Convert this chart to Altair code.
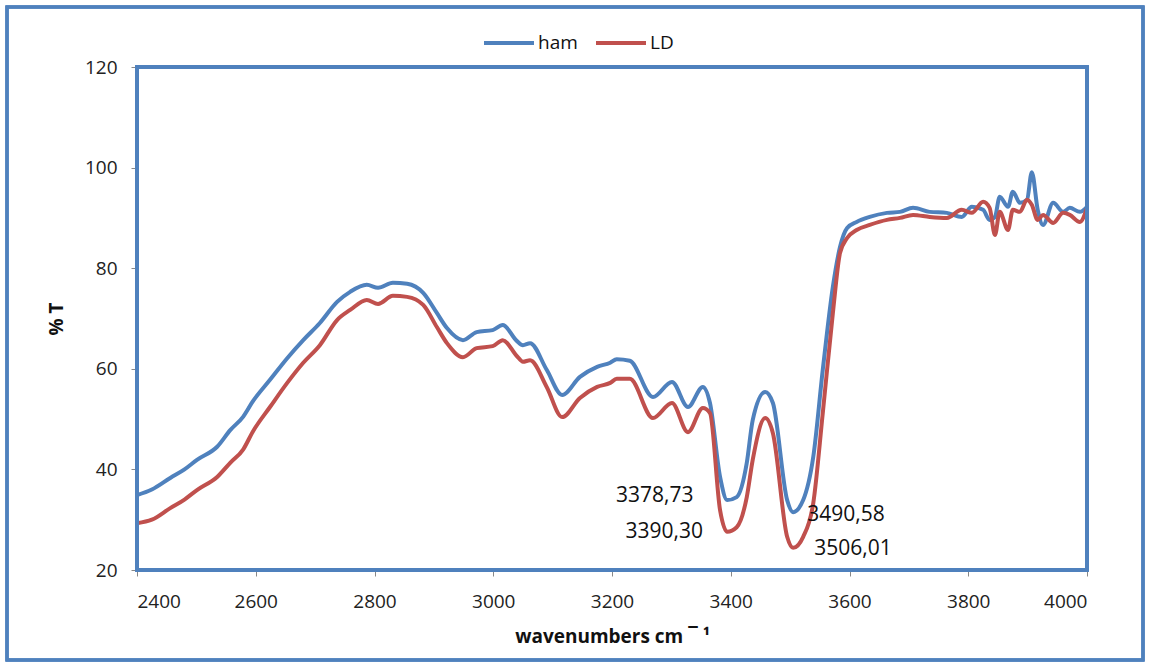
import altair as alt
import pandas as pd

wavenumber = [2400, 2425, 2456, 2480, 2501, 2535, 2557, 2579, 2595, 2624, 2653, 2680, 2708,
              2737, 2759, 2787, 2806, 2831, 2855, 2882, 2905, 2922, 2949, 2972, 2999, 3016,
              3040, 3050, 3062, 3090, 3116, 3146, 3175, 3197, 3208, 3230, 3269, 3301, 3328,
              3353, 3365, 3382, 3394, 3410, 3427, 3437, 3458, 3471, 3495, 3505, 3522, 3539,
              3555, 3572, 3584, 3596, 3612, 3634, 3663, 3685, 3707, 3735, 3764, 3789, 3806,
              3825, 3836, 3845, 3853, 3867, 3875, 3887, 3899, 3907, 3917, 3926, 3943, 3960,
              3971, 3988, 4000]
ham = [34.9, 36.0, 38.3, 40.0, 41.9, 44.5, 47.8, 50.5, 53.5, 57.8, 62.1, 65.7, 69.1,
       73.3, 75.3, 76.7, 76.1, 77.1, 76.9, 75.1, 71.1, 68.1, 65.7, 67.3, 67.7, 68.7,
       65.5, 64.7, 65.1, 59.8, 54.8, 58.4, 60.4, 61.2, 61.9, 61.6, 54.4, 57.4, 52.4,
       56.4, 53.2, 38.5, 33.9, 34.5, 41.3, 49.8, 55.4, 53.2, 33.9, 31.5, 33.9, 42.5,
       59.8, 76.3, 84.2, 88.0, 89.2, 90.2, 91.0, 91.2, 92.0, 91.2, 91.0, 90.2, 92.2,
       91.6, 89.6, 90.2, 94.2, 92.2, 95.2, 93.0, 93.6, 99.1, 91.6, 88.6, 93.0, 91.2,
       92.0, 91.2, 92.2]
ld = [29.3, 30.0, 32.3, 34.0, 35.9, 38.5, 41.3, 44.0, 47.5, 52.4, 57.2, 61.2, 64.7,
      69.7, 71.7, 73.7, 72.9, 74.5, 74.3, 72.7, 68.3, 65.1, 62.3, 64.1, 64.5, 65.7,
      62.5, 61.4, 61.7, 56.4, 50.4, 54.2, 56.4, 57.2, 58.0, 58.0, 50.2, 53.2, 47.4,
      52.2, 51.2, 31.9, 27.6, 28.5, 34.5, 41.9, 50.2, 47.2, 26.6, 24.4, 26.6, 33.3,
      51.2, 71.1, 83.0, 86.0, 87.6, 88.6, 89.6, 90.0, 90.6, 90.2, 90.0, 91.6, 91.0,
      93.2, 92.0, 86.6, 91.2, 87.6, 91.6, 91.2, 93.6, 92.6, 89.6, 90.6, 89.0, 91.0,
      90.6, 89.2, 92.0]

labels = ["3378,73", "3390,30", "3490,58", "3506,01"]
label_x = [3272, 3288, 3594, 3606]
label_y = [34.7, 27.6, 30.9, 24.2]

df = pd.concat([
    pd.DataFrame({"w": wavenumber, "T": ham, "series": "ham"}),
    pd.DataFrame({"w": wavenumber, "T": ld, "series": "LD"}),
])
lab = pd.DataFrame({"text": labels, "w": label_x, "T": label_y})

BLUE = "#4F81BD"
RED = "#C0504D"
FONT = "Open Sans"

xs = alt.Scale(domain=[2400, 4000], nice=False)
ys = alt.Scale(domain=[20, 120], nice=False)

lines = alt.Chart(df).mark_line(strokeWidth=4, interpolate="monotone").encode(
    x=alt.X("w:Q", scale=xs, title="wavenumbers cm ¯ ¹",
            axis=alt.Axis(values=list(range(2400, 4001, 200)), format="d", grid=False, domain=False,
                          tickColor="#888888", tickSize=6, labelFontSize=19, labelPadding=16,
                          labelFont=FONT, titleFont=FONT, titleFontSize=19, titleFontWeight="bold",
                          titlePadding=16, labelColor="#222222", titleColor="#111111")),
    y=alt.Y("T:Q", scale=ys, title="% T",
            axis=alt.Axis(values=list(range(20, 121, 20)), grid=False, domain=False,
                          tickColor="#888888", tickSize=6, labelFontSize=19, labelPadding=14,
                          labelFont=FONT, titleFont=FONT, titleFontSize=19, titleFontWeight="bold",
                          titlePadding=18, labelColor="#222222", titleColor="#111111")),
    color=alt.Color("series:N", sort=["ham", "LD"],
                    scale=alt.Scale(domain=["ham", "LD"], range=[BLUE, RED]),
                    legend=alt.Legend(title=None, orient="none", legendX=345, legendY=-51,
                                      direction="horizontal", symbolType="stroke",
                                      symbolStrokeWidth=4, symbolSize=2500,
                                      labelFontSize=19, labelFont=FONT, columnPadding=10,
                                      labelOffset=2, labelColor="#111111")),
    order=alt.Order("w:Q"),
)

texts = alt.Chart(lab).mark_text(fontSize=21, font=FONT, color="#111111", align="center",
                                 baseline="middle").encode(
    x=alt.X("w:Q", scale=xs), y=alt.Y("T:Q", scale=ys), text="text:N")

frame = alt.Chart(lab).mark_rect(fill=None, stroke=BLUE, strokeWidth=3, clip=False).encode(
    x=alt.value(-130), x2=alt.value(1006), y=alt.value(-60), y2=alt.value(593))

border = alt.Chart(lab).mark_rect(fill=None, stroke=BLUE, strokeWidth=3.5, clip=False).encode(
    x=alt.value(0), x2=alt.value(950), y=alt.value(0), y2=alt.value(503))

chart = alt.layer(frame, lines, border, texts).properties(
    width=950, height=503,
    autosize=alt.AutoSizeParams(type="none"),
    padding={"left": 137, "top": 67, "right": 65, "bottom": 97},
).configure(background="white").configure_view(stroke=None)

chart.save("out.html", embed_options={"renderer": "svg", "actions": False})
